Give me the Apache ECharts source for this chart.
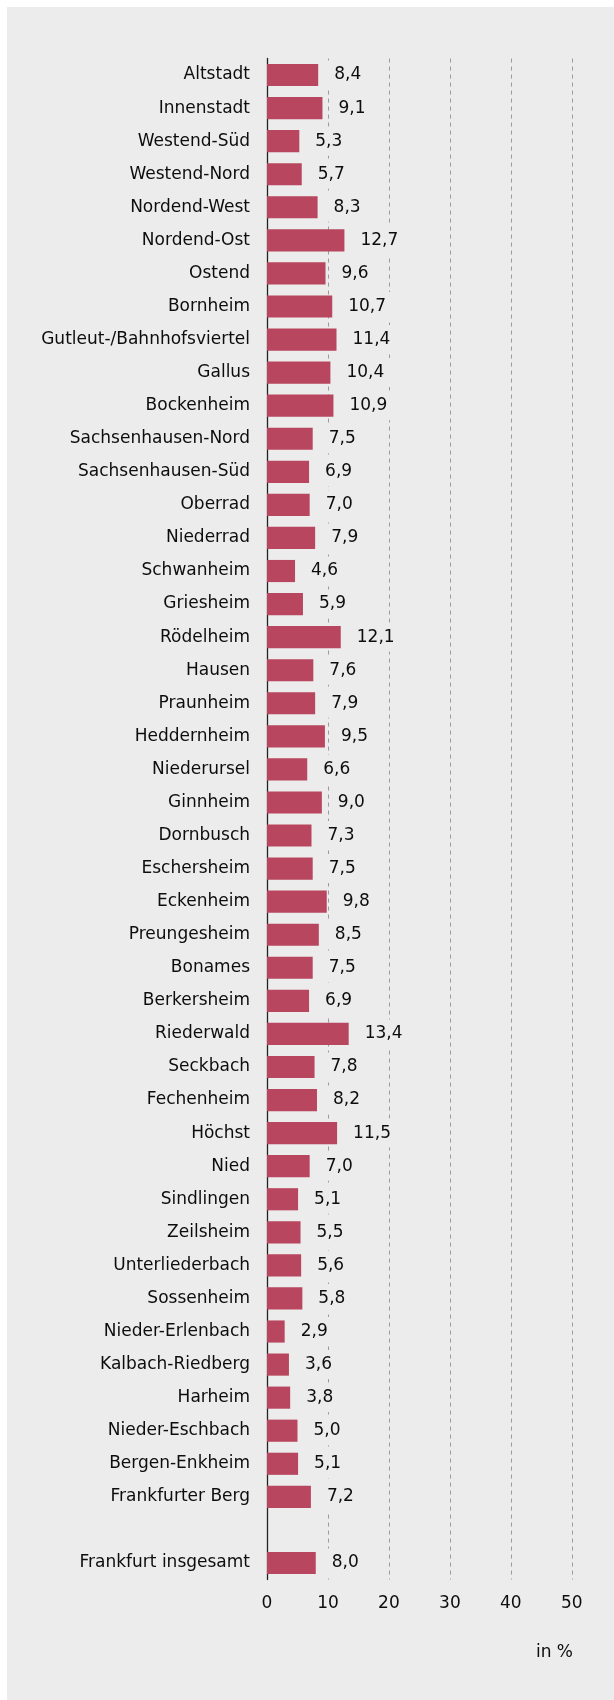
<!DOCTYPE html>
<html>
<head>
<meta charset="utf-8">
<script src="https://cdn.jsdelivr.net/npm/echarts@6/dist/echarts.min.js"></script>
<style>
  html, body { margin: 0; padding: 0; background: #ffffff; }
  #chart { position: absolute; left: 7px; top: 7px; width: 607px; height: 1693px; }
</style>
</head>
<body>
<div id="chart"></div>
<script>
const categories = [
  'Altstadt', 'Innenstadt', 'Westend-Süd', 'Westend-Nord', 'Nordend-West', 'Nordend-Ost',
  'Ostend', 'Bornheim', 'Gutleut-/Bahnhofsviertel', 'Gallus', 'Bockenheim',
  'Sachsenhausen-Nord', 'Sachsenhausen-Süd', 'Oberrad', 'Niederrad', 'Schwanheim',
  'Griesheim', 'Rödelheim', 'Hausen', 'Praunheim', 'Heddernheim', 'Niederursel',
  'Ginnheim', 'Dornbusch', 'Eschersheim', 'Eckenheim', 'Preungesheim', 'Bonames',
  'Berkersheim', 'Riederwald', 'Seckbach', 'Fechenheim', 'Höchst', 'Nied',
  'Sindlingen', 'Zeilsheim', 'Unterliederbach', 'Sossenheim', 'Nieder-Erlenbach',
  'Kalbach-Riedberg', 'Harheim', 'Nieder-Eschbach', 'Bergen-Enkheim', 'Frankfurter Berg',
  '', 'Frankfurt insgesamt'
];
const values = [
  8.4, 9.1, 5.3, 5.7, 8.3, 12.7,
  9.6, 10.7, 11.4, 10.4, 10.9,
  7.5, 6.9, 7.0, 7.9, 4.6,
  5.9, 12.1, 7.6, 7.9, 9.5, 6.6,
  9.0, 7.3, 7.5, 9.8, 8.5, 7.5,
  6.9, 13.4, 7.8, 8.2, 11.5, 7.0,
  5.1, 5.5, 5.6, 5.8, 2.9,
  3.6, 3.8, 5.0, 5.1, 7.2,
  null, 8.0
];
const xTicks = [0, 10, 20, 30, 40, 50];
const unitLabel = 'in %';

const FONT = 'DejaVu Sans';
const TEXT = '#0d0d0d';
const chart = echarts.init(document.getElementById('chart'), null, { renderer: 'canvas' });
chart.setOption({
  backgroundColor: '#ececec',
  animation: false,
  grid: { left: 260, top: 51.5, width: 304.8, height: 1521, containLabel: false },
  xAxis: {
    type: 'value',
    min: xTicks[0],
    max: xTicks[xTicks.length - 1],
    interval: xTicks[1] - xTicks[0],
    axisLine: { show: false },
    axisTick: { show: false },
    axisLabel: { color: TEXT, fontFamily: FONT, fontSize: 17, margin: 16 },
    splitLine: { show: true, lineStyle: { color: '#9a9a9a', width: 1, type: [4, 4] } }
  },
  yAxis: {
    type: 'category',
    inverse: true,
    data: categories,
    axisLine: { show: true, lineStyle: { color: '#222222', width: 1.3 } },
    axisTick: { show: false },
    axisLabel: { color: TEXT, fontFamily: FONT, fontSize: 17, margin: 17 }
  },
  series: [{
    type: 'bar',
    data: values,
    barCategoryGap: '33%',
    itemStyle: { color: '#b8465f' },
    label: {
      show: true,
      position: 'right',
      distance: 8,
      padding: [6, 8],
      backgroundColor: '#ececec',
      color: TEXT,
      fontFamily: FONT,
      fontSize: 17,
      formatter: p => (p.value == null ? '' : p.value.toFixed(1).replace('.', ','))
    }
  }],
  graphic: [{
    type: 'text',
    right: 614 - 573,
    top: 1637,
    style: { text: unitLabel, fill: TEXT, font: '17px "DejaVu Sans"', textAlign: 'right' }
  }]
});
</script>
</body>
</html>
